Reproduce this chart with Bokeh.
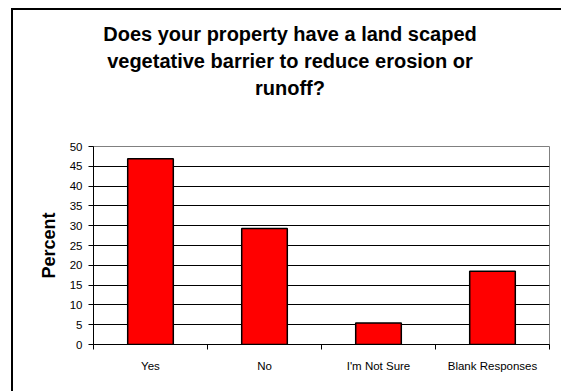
from jinja2 import Template
from bokeh.plotting import figure
from bokeh.layouts import column
from bokeh.embed import file_html
from bokeh.resources import INLINE
from bokeh.core.templates import FILE
from bokeh.models import (ColumnDataSource, FixedTicker, Label,
                          InlineStyleSheet, Range1d)

# Survey answers (percent of respondents)
categories = ["Yes", "No", "I'm Not Sure", "Blank Responses"]
percent = [46.9, 29.3, 5.4, 18.5]
y_ticks = [0, 5, 10, 15, 20, 25, 30, 35, 40, 45, 50]

title_lines = [
    "Does your property have a land scaped",
    "vegetative barrier to reduce erosion or",
    "runoff?",
]

FONT = "Liberation Sans"

W, H = 561, 391
HEAD_H = 136
LEFT, RIGHT = 93, 12

no_scroll = InlineStyleSheet(css=":host { overflow: hidden; }")

# ---- heading strip (pixel coordinates, y measured downwards) ----
head = figure(
    width=W, height=HEAD_H,
    x_range=Range1d(LEFT, W - RIGHT), y_range=Range1d(HEAD_H, 0),
    output_backend="svg", toolbar_location=None, tools="",
    x_axis_type=None, y_axis_type=None,
    min_border_left=LEFT, min_border_right=RIGHT,
    min_border_top=0, min_border_bottom=0,
    outline_line_color=None,
    background_fill_color=None, border_fill_color=None,
)
head.grid.visible = False
head.stylesheets = [no_scroll]

title_center_x = 289.5
title_baselines = [33, 60, 87.5]
for line, base in zip(title_lines, title_baselines):
    head.add_layout(Label(
        x=title_center_x, y=base, text=line,
        text_align="center", text_baseline="alphabetic",
        text_font=FONT, text_font_style="bold", text_font_size="20px",
        text_color="black",
    ))

# ---- bar chart ----
centers = [i + 0.5 for i in range(len(categories))]
source = ColumnDataSource(data=dict(x=centers, top=percent, cat=categories))

p = figure(
    width=W, height=H - HEAD_H,
    x_range=(0, len(categories)), y_range=(0, 50),
    output_backend="svg", toolbar_location=None, tools="",
    min_border_left=LEFT, min_border_right=RIGHT,
    min_border_top=10, min_border_bottom=47,
    background_fill_color="white", border_fill_color=None,
)
p.stylesheets = [no_scroll]
p.outline_line_color = "#808080"
p.outline_line_width = 1

p.vbar(x="x", top="top", bottom=0, width=0.4, source=source,
       fill_color="#FF0000", line_color="black", line_width=1.5)

# y axis
p.yaxis.ticker = FixedTicker(ticks=y_ticks, minor_ticks=[])
p.yaxis.axis_line_color = "black"
p.yaxis.major_tick_line_color = "black"
p.yaxis.major_tick_out = 5
p.yaxis.major_tick_in = 0
p.yaxis.minor_tick_line_color = None
p.yaxis.major_label_standoff = 6
p.yaxis.major_label_text_font = FONT
p.yaxis.major_label_text_font_size = "11.5px"
p.yaxis.major_label_text_color = "black"
p.yaxis.axis_label = "Percent"
p.yaxis.axis_label_text_font = FONT
p.yaxis.axis_label_text_font_style = "bold"
p.yaxis.axis_label_text_font_size = "18px"
p.yaxis.axis_label_text_color = "black"
p.yaxis.axis_label_standoff = 8

# x axis: labels at slot centres, tick marks on slot boundaries
p.xaxis.ticker = FixedTicker(ticks=centers,
                             minor_ticks=list(range(len(categories) + 1)))
p.xaxis.major_label_overrides = {c: name for c, name in zip(centers, categories)}
p.xaxis.major_tick_line_color = None
p.xaxis.minor_tick_line_color = "black"
p.xaxis.minor_tick_out = 5
p.xaxis.minor_tick_in = 0
p.xaxis.axis_line_color = "black"
p.xaxis.major_label_standoff = 9
p.xaxis.major_label_text_font = FONT
p.xaxis.major_label_text_font_size = "11.5px"
p.xaxis.major_label_text_color = "black"

# horizontal grid lines
p.xgrid.grid_line_color = None
p.ygrid.ticker = FixedTicker(ticks=y_ticks[1:-1])
p.ygrid.grid_line_color = "black"
p.ygrid.grid_line_width = 1

layout = column(head, p, spacing=0)

# outer chart border (top and left edges) painted in the layout background
layout.stylesheets = [InlineStyleSheet(css="""
:host {
  overflow: hidden;
  background:
    linear-gradient(#000, #000) 11px 8px / 550px 2px no-repeat,
    linear-gradient(#000, #000) 11px 8px / 2px 383px no-repeat,
    #fff;
}
""")]

# page without margins or scrollbars
page = Template("""{% extends base %}
{% block preamble %}<style>html, body { margin: 0; padding: 0; overflow: hidden !important; }</style>{% endblock %}
""")

open("out.html", "w").write(
    file_html(layout, INLINE, template=page, template_variables={"base": FILE}))
